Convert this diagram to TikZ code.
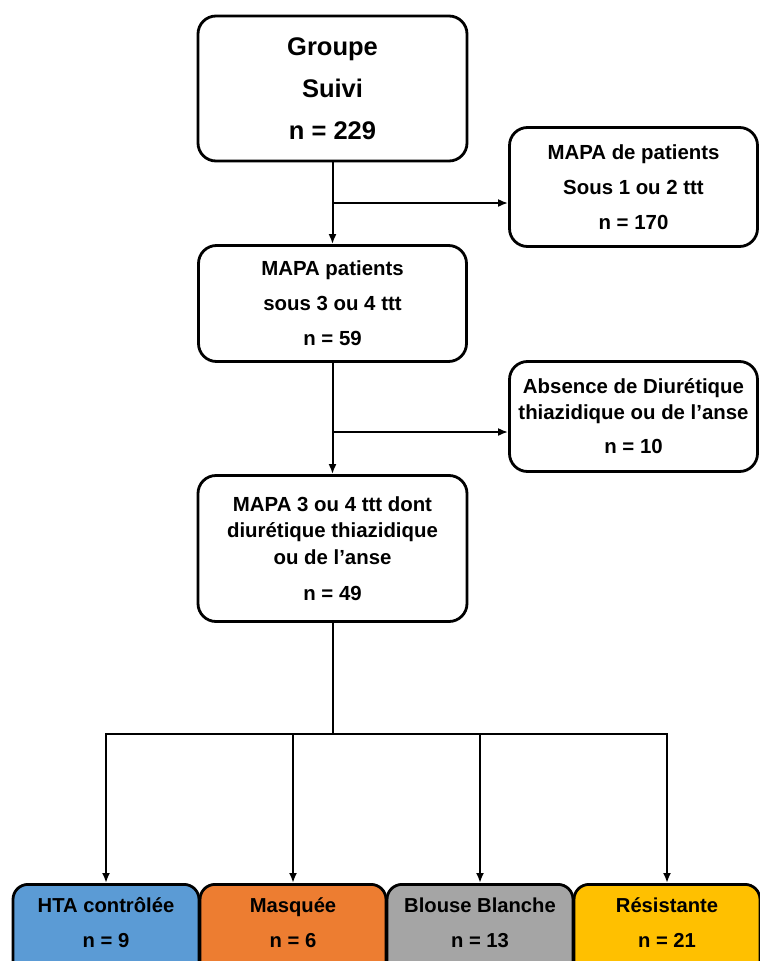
\documentclass[tikz,border=0pt]{standalone}
\usepackage{fontspec}
\setmainfont{Liberation Sans}
\usetikzlibrary{arrows.meta}
\definecolor{cblue}{HTML}{5B9BD5}
\definecolor{corange}{HTML}{ED7D31}
\definecolor{cgray}{HTML}{A5A5A5}
\definecolor{cyellow}{HTML}{FFC000}
\begin{document}
\begin{tikzpicture}[x=1pt,y=-1pt,
  box/.style={draw, line width=2.8pt, rounded corners=18pt, align=center, inner sep=0pt,
    font=\bfseries\fontsize{20.4}{35}\selectfont},
  botbox/.style={draw, line width=2.8pt, rounded corners=15pt, inner sep=0pt,
    minimum width=186pt, minimum height=100pt, anchor=north},
  bottxt/.style={align=center, inner sep=0pt, font=\bfseries\fontsize{20.2}{35}\selectfont},
  conn/.style={line width=2pt},
  arr/.style={conn, -{Latex[length=10pt,width=8pt]}}]
\useasboundingbox (0,0) rectangle (760,961);
\clip (0,0) rectangle (760,961);
\fill[white] (0,0) rectangle (760,961);

\node[box, minimum width=269pt, minimum height=145pt, font=\bfseries\fontsize{25.5}{42}\selectfont]
  (g) at (332.5,88.5) {Groupe\\Suivi\\n = 229};
\node[box, minimum width=248pt, minimum height=119pt] (m2) at (633.5,187)
  {MAPA de patients\\Sous 1 ou 2 ttt\\n = 170};
\node[box, minimum width=268pt, minimum height=116pt] (m3) at (332.5,303.5)
  {MAPA patients\\sous 3 ou 4 ttt\\n = 59};
\node[box, minimum width=248pt, minimum height=110pt, font=\bfseries\fontsize{20.4}{26}\selectfont]
  (m4) at (633.5,416.5) {Absence de Diurétique\\thiazidique ou de l’anse\\[8pt]n = 10};
\node[box, minimum width=269pt, minimum height=146pt, font=\bfseries\fontsize{20.4}{26.5}\selectfont]
  (m5) at (332.5,548.5) {MAPA 3 ou 4 ttt dont\\diurétique thiazidique\\ou de l’anse\\[10pt]n = 49};

\node[botbox, fill=cblue]   (b1) at (106,883) {};
\node[botbox, fill=corange] (b2) at (293,883) {};
\node[botbox, fill=cgray]   (b3) at (480,883) {};
\node[botbox, fill=cyellow] (b4) at (667,883) {};
\node[bottxt] (t1) at (106,923) {HTA contrôlée\\n = 9};
\node[bottxt] (t2) at (293,923) {Masquée\\n = 6};
\node[bottxt] (t3) at (480,923) {Blouse Blanche\\n = 13};
\node[bottxt] (t4) at (667,923) {Résistante\\n = 21};

\coordinate (j1) at (332.5,203);
\coordinate (j2) at (332.5,432);
\coordinate (j3) at (332.5,734);

\draw[arr] (g.south) -- (m3.north);
\draw[arr] (j1) -- (j1 -| m2.west);
\draw[arr] (m3.south) -- (m5.north);
\draw[arr] (j2) -- (j2 -| m4.west);
\draw[conn] (m5.south) -- (j3);
\draw[arr] (j3) -| (b1.north);
\draw[arr] (j3) -| (b4.north);
\draw[arr] (b2.north |- j3) -- (b2.north);
\draw[arr] (b3.north |- j3) -- (b3.north);
\end{tikzpicture}
\end{document}
